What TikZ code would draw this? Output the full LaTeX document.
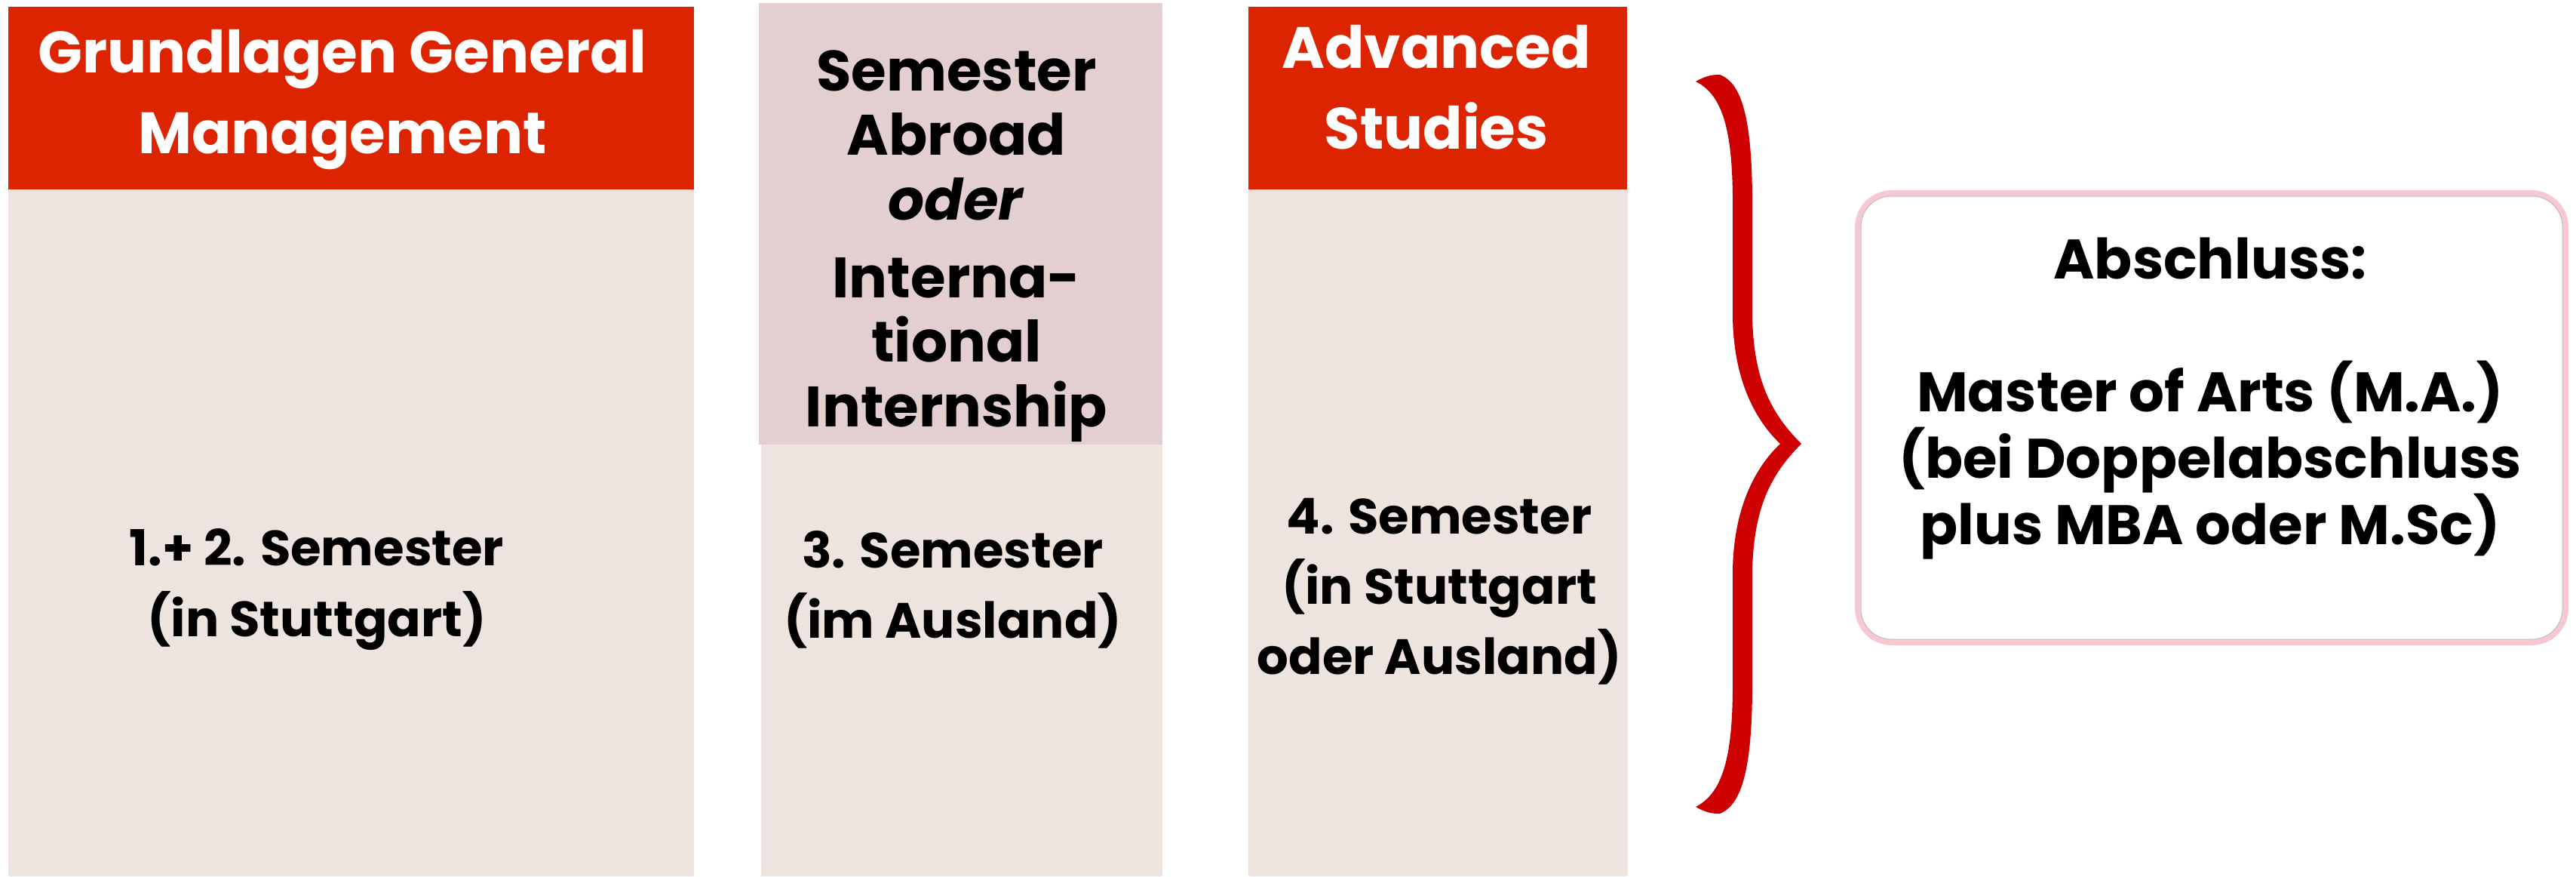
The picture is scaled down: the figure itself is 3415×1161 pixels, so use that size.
\documentclass[tikz,border=0pt]{standalone}
\usepackage{fontspec}
\setmainfont{Poppins}
\usepackage{tikz}
\usepackage{xcolor}
\definecolor{headred}{RGB}{220,36,0}
\definecolor{bodybeige}{RGB}{237,228,223}
\definecolor{abroadpink}{RGB}{227,207,207}
\definecolor{bracered}{RGB}{204,0,0}
\definecolor{framepink}{RGB}{248,200,210}
\tikzset{
    headtext/.style={align=center, text=white, font=\bfseries\fontsize{22pt}{30.5pt}\selectfont},
    abroadtext/.style={align=center, font=\bfseries\fontsize{21.5pt}{24.3pt}\selectfont},
    semtext/.style={align=center, font=\bfseries\fontsize{18.7pt}{26.5pt}\selectfont},
    degreetext/.style={align=center, font=\bfseries\fontsize{21pt}{25pt}\selectfont}
}

\begin{document}
\begin{tikzpicture}[x=0.1mm, y=-0.1mm]
                        \useasboundingbox (0, 0) rectangle (3415, 1161);

                        \fill[headred] (11, 9) rectangle (920, 251);
                        \fill[bodybeige] (11, 251) rectangle (920, 1161);
                        \fill[abroadpink] (1006, 4) rectangle (1541, 589);
                        \fill[bodybeige] (1009, 589) rectangle (1541, 1161);
                        \fill[headred] (1655, 9) rectangle (2157, 251);
                        \fill[bodybeige] (1655, 251) rectangle (2158, 1161);

                        \node[headtext] (grundlagen) at (454, 132) {Grundlagen General\\Management};
                        \node[headtext] (advanced) at (1904, 116) {Advanced\\Studies};
                        \node[abroadtext] (abroad) at (1268, 326) {Semester\\Abroad\\\textit{oder}\\[5pt]Interna-\\tional\\Internship};

                        \node[semtext] (semA) at (420, 781) {1.+ 2. Semester\\(in Stuttgart)};
                        \node[semtext] (semB) at (1263, 781) {3. Semester\\(im Ausland)};
                        \node[semtext] (semC) at (1908, 784) {4. Semester\\(in Stuttgart\\oder Ausland)};

                        \fill[bracered]
                        (2248, 108) .. controls (2262, 100) and (2270, 99) .. (2280, 99)
                        .. controls (2310, 110) and (2322, 160) .. (2323, 260)
                        -- (2323, 420)
                        .. controls (2325, 500) and (2345, 545) .. (2388, 588)
                        .. controls (2345, 631) and (2325, 676) .. (2323, 756)
                        -- (2323, 916)
                        .. controls (2322, 1016) and (2310, 1066) .. (2280, 1078)
                        .. controls (2270, 1078) and (2262, 1077) .. (2248, 1069)
                        .. controls (2285, 1050) and (2296, 1000) .. (2297, 916)
                        -- (2297, 756)
                        .. controls (2298, 684) and (2320, 626) .. (2360, 588)
                        .. controls (2320, 550) and (2298, 492) .. (2297, 420)
                        -- (2297, 260)
                        .. controls (2296, 176) and (2285, 126) .. (2248, 108)
                        -- cycle;

                        \draw[framepink, line width=0.8mm, rounded corners=4.5mm] (2463, 256) rectangle (3401, 851);
                        \draw[black!25, line width=0.1mm, rounded corners=4mm] (2467, 260) rectangle (3397, 847);
                        \node[degreetext] (abschluss) at (2930, 528) {Abschluss:\\[25pt]Master of Arts (M.A.)\\(bei Doppelabschluss\\plus MBA oder M.Sc)};
                    \end{tikzpicture}
\end{document}
